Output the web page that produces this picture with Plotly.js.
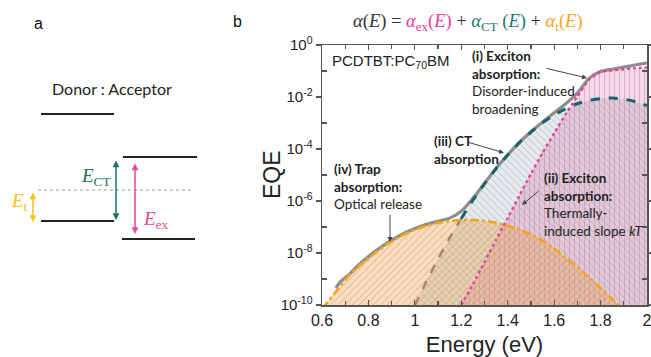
<!DOCTYPE html>
<html>
<head>
<meta charset="utf-8">
<script src="https://cdn.plot.ly/plotly-3.0.1.min.js"></script>
<style>html,body{margin:0;padding:0;background:#fff;}#chart{width:651px;height:357px;}</style>
</head>
<body>
<div id="chart"></div>
<script>
// ---------- data ----------
const trapEnergy = [0.60,0.65,0.70,0.75,0.80,0.85,0.90,0.95,1.00,1.05,1.10,1.15,1.20,1.25,1.30,1.35,1.40,1.45,1.50,1.55,1.60,1.65,1.70,1.75,1.80,1.85,1.90];
const trapEQE = [7.1e-11,2.5e-10,9.5e-10,2.6e-9,6.3e-9,1.38e-8,2.8e-8,5.0e-8,7.9e-8,1.12e-7,1.45e-7,1.70e-7,1.86e-7,1.86e-7,1.74e-7,1.45e-7,1.12e-7,8.1e-8,5.2e-8,3.0e-8,1.48e-8,6.6e-9,2.8e-9,1.15e-9,4.5e-10,1.7e-10,6.3e-11];

const ctEnergy = [1.00,1.05,1.10,1.15,1.20,1.25,1.30,1.35,1.40,1.45,1.50,1.55,1.60,1.65,1.70,1.75,1.80,1.85,1.90,1.95,2.00];
const ctEQE = [9.8e-11,8.1e-10,5.9e-9,3.8e-8,2.14e-7,1.07e-6,4.6e-6,1.78e-5,5.9e-5,1.74e-4,4.5e-4,1.02e-3,2.04e-3,3.55e-3,5.5e-3,7.4e-3,8.7e-3,9.1e-3,8.3e-3,6.6e-3,4.7e-3];

const exEnergy = [1.20,1.25,1.30,1.35,1.40,1.45,1.50,1.55,1.60,1.65,1.70,1.75,1.80,1.85,1.90,1.95,2.00];
const exEQE = [1.0e-10,6.3e-10,4.5e-9,3.2e-8,2.24e-7,1.58e-6,1.12e-5,7.1e-5,4.0e-4,2.24e-3,1.05e-2,4.7e-2,9.3e-2,0.107,0.117,0.129,0.138];

const totalEnergy = [0.66,0.68,0.70,0.72,0.75,0.80,0.85,0.90,0.95,1.00,1.05,1.10,1.15,1.20,1.25,1.30,1.35,1.40,1.45,1.50,1.55,1.60,1.65,1.70,1.75,1.80,1.85,1.90,1.95,2.00];
const totalEQE = [4.5e-10,7.9e-10,1.12e-9,1.58e-9,3.0e-9,7.4e-9,1.58e-8,3.1e-8,5.5e-8,8.7e-8,1.26e-7,1.66e-7,2.2e-7,4.0e-7,1.26e-6,4.8e-6,1.82e-5,6.0e-5,1.78e-4,4.6e-4,1.10e-3,2.45e-3,5.5e-3,1.41e-2,5.2e-2,9.5e-2,0.117,0.141,0.170,0.204];

const xTickVals = [0.6,0.8,1,1.2,1.4,1.6,1.8,2];
const xTickText = ['0.6','0.8','1','1.2','1.4','1.6','1.8','2'];
const yTickVals = [1e-10,1e-8,1e-6,1e-4,1e-2,1];
const yTickText = ['10<sup>-10</sup>','10<sup>-8</sup>','10<sup>-6</sup>','10<sup>-4</sup>','10<sup>-2</sup>','10<sup>0</sup>'];
const yMinorVals = [1e-9,1e-7,1e-5,1e-3,1e-1];

// ---------- helpers ----------
const BASE = 1e-13;
function area(xs, ys, bg, fg, shape){
  return {
    x: [xs[0]].concat(xs, [xs[xs.length-1]]),
    y: [BASE].concat(ys, [BASE]),
    type:'scatter', mode:'lines', fill:'toself', line:{width:0},
    fillcolor: bg,
    fillpattern:{shape: shape, bgcolor: bg, fgcolor: fg, fgopacity: 0.5, size: 5, solidity: 0.16},
    hoverinfo:'skip', showlegend:false, xaxis:'x', yaxis:'y'
  };
}
function curve(xs, ys, color, width, dash){
  return {x: xs, y: ys, type:'scatter', mode:'lines', line:{color: color, width: width, dash: dash, shape:'spline', smoothing:0.6},
          hoverinfo:'skip', showlegend:false, xaxis:'x', yaxis:'y'};
}

const C_TRAP = '#f7a21b', C_CT = '#17646e', C_EX = '#e6409b', C_TOT = '#8e8e8e';

// CT line part hidden under the trap fill (E <= 1.2) is drawn before the trap fill
const ctLowN = ctEnergy.indexOf(1.20) + 1;
const traces = [
  area(ctEnergy, ctEQE, 'rgba(160,176,186,0.27)', '#7d8a92', '\\'),
  area(exEnergy, exEQE, 'rgba(215,105,158,0.25)', '#b07a98', '|'),
  curve(ctEnergy.slice(0, ctLowN), ctEQE.slice(0, ctLowN), '#6f7060', 2.4, 'dash'),
  area(trapEnergy, trapEQE, 'rgba(238,168,90,0.40)', '#a8764a', '/'),
  curve(totalEnergy, totalEQE, C_TOT, 3.2, 'solid'),
  curve(trapEnergy, trapEQE, C_TRAP, 2.6, 'dashdot'),
  curve(ctEnergy.slice(ctLowN - 1), ctEQE.slice(ctLowN - 1), C_CT, 3, 'dash'),
  curve(exEnergy, exEQE, C_EX, 2.4, 'dot')
];

const TXT = '#222';
const labelFont = {family:'Lato, "Open Sans", sans-serif', size:13.5, color:TXT};
function lbl(x, y, text){
  return {xref:'x', yref:'y', x:x, y:y, xanchor:'left', yanchor:'middle', align:'left', showarrow:false, font:labelFont, text:text};
}
function arrow(x, y, ax, ay){
  return {xref:'x', yref:'y', x:x, y:y, ax:ax, ay:ay, text:'', showarrow:true, arrowhead:2, arrowsize:1, arrowwidth:1, arrowcolor:'#444'};
}

const annotations = [
  // panel letters
  {xref:'paper', yref:'paper', x:38/647, y:(305-23)/260, xanchor:'center', yanchor:'middle', text:'a', showarrow:false, font:{family:'Liberation Sans, Arial', size:16, color:'#111'}},
  {xref:'paper', yref:'paper', x:237/647, y:(305-21)/260, xanchor:'center', yanchor:'middle', text:'b', showarrow:false, font:{family:'Liberation Sans, Arial', size:16, color:'#111'}},
  // y-axis title
  {xref:'paper', yref:'paper', x:272/647, y:0.5, xanchor:'center', yanchor:'middle', textangle:-90, text:'EQE', showarrow:false,
   font:{family:'Liberation Sans, Arial', size:23, color:'#222'}},
  // formula
  {xref:'paper', yref:'paper', x:468/647, y:(305-22)/260, xanchor:'center', yanchor:'middle', showarrow:false,
   font:{family:'"Liberation Serif", serif', size:18.5, color:'#333'},
   text:'<i>α</i>(<i>E</i>) = <span style="color:'+C_EX+'"><i>α</i><sub>ex</sub>(<i>E</i>)</span> + <span style="color:#1b7a70"><i>α</i><sub>CT</sub> (<i>E</i>)</span> + <span style="color:'+C_TRAP+'"><i>α</i><sub>t</sub>(<i>E</i>)</span>'},
  // sample name
  {xref:'x', yref:'y', x:0.634, y:-0.65, xanchor:'left', yanchor:'middle', showarrow:false, text:'PCDTBT:PC<sub>70</sub>BM',
   font:{family:'Liberation Sans, Arial', size:15, color:'#222'}},
  lbl(1.2376, -1.46, '<b>(i) Exciton</b><br><b>absorption:</b><br>Disorder-induced<br>broadening'),
  arrow(1.7416, -1.27, -42, -10),
  lbl(1.074, -4.02, '<b>(iii) CT</b><br><b>absorption</b>'),
  arrow(1.384, -4.15, -37, -11),
  lbl(1.548, -6.12, '<b>(ii) Exciton</b><br><b>absorption:</b><br>Thermally-<br>induced slope <i>kT</i>'),
  arrow(1.4615, -6.15, 18, -15),
  lbl(0.643, -5.44, '<b>(iv) Trap</b><br><b>absorption:</b><br>Optical release'),
  arrow(0.893, -7.58, 0, -29),

  // ---- panel a (schematic, on hidden axes x2/y2 in pixel-like units) ----
  {xref:'x2', yref:'y2', x:112, y:88, text:'Donor : Acceptor', showarrow:false, font:{family:'Lato, "Open Sans", sans-serif', size:16, color:'#222'}},
  {xref:'x2', yref:'y2', x:33, y:222, ax:33, ay:191, axref:'x2', ayref:'y2', text:'', showarrow:true, arrowside:'end+start', arrowhead:2, arrowsize:0.9, arrowwidth:1.5, arrowcolor:'#f5c21b'},
  {xref:'x2', yref:'y2', x:116, y:220, ax:116, ay:159, axref:'x2', ayref:'y2', text:'', showarrow:true, arrowside:'end+start', arrowhead:2, arrowsize:0.9, arrowwidth:1.5, arrowcolor:'#1b7065'},
  {xref:'x2', yref:'y2', x:135, y:234, ax:135, ay:162, axref:'x2', ayref:'y2', text:'', showarrow:true, arrowside:'end+start', arrowhead:2, arrowsize:0.9, arrowwidth:1.5, arrowcolor:'#e8479a'},
  {xref:'x2', yref:'y2', x:19, y:202, text:'<i>E</i><sub>t</sub>', showarrow:false, font:{family:'"Liberation Serif", serif', size:19, color:'#f5c21b'}},
  {xref:'x2', yref:'y2', x:96, y:177, text:'<i>E</i><sub>CT</sub>', showarrow:false, font:{family:'"Liberation Serif", serif', size:19, color:'#1b7065'}},
  {xref:'x2', yref:'y2', x:156, y:220, text:'<i>E</i><sub>ex</sub>', showarrow:false, font:{family:'"Liberation Serif", serif', size:19, color:'#e8479a'}}
];

const shapes = [
  {type:'line', xref:'x2', yref:'y2', x0:41, x1:114, y0:114, y1:114, line:{color:'#222', width:2.2}},
  {type:'line', xref:'x2', yref:'y2', x0:123, x1:197, y0:157, y1:157, line:{color:'#222', width:2.2}},
  {type:'line', xref:'x2', yref:'y2', x0:41, x1:114, y0:221, y1:221, line:{color:'#222', width:2.2}},
  {type:'line', xref:'x2', yref:'y2', x0:122, x1:195, y0:239, y1:239, line:{color:'#222', width:2.2}},
  {type:'line', xref:'x2', yref:'y2', x0:38, x1:194, y0:190, y1:190, line:{color:'#999', width:1, dash:'dot'}}
];

const layout = {
  width:651, height:357,
  margin:{l:0, r:4, t:45, b:52},
  paper_bgcolor:'#fff', plot_bgcolor:'rgba(0,0,0,0)',
  showlegend:false,
  font:{family:'Liberation Sans, Arial, sans-serif', color:'#222'},
  xaxis:{domain:[322/647, 1], range:[0.6, 2], tickmode:'array', tickvals:xTickVals, ticktext:xTickText,
         ticks:'inside', ticklen:5, tickwidth:1.2, tickcolor:'#555', ticklabeloverflow:'allow',
         minor:{tickmode:'linear', tick0:0.6, dtick:0.1, ticks:'inside', ticklen:4, tickcolor:'#555'},
         showline:true, linecolor:'#555', linewidth:1.5, mirror:'ticks', showgrid:false, zeroline:false,
         tickfont:{size:16, color:'#222'},
         title:{text:'Energy (eV)', font:{size:22, color:'#222'}, standoff:9}},
  yaxis:{domain:[0,1], type:'log', range:[-10, 0], tickmode:'array', tickvals:yTickVals, ticktext:yTickText,
         ticks:'outside', ticklen:5, tickwidth:1.2, tickcolor:'#555',
         minor:{tickmode:'array', tickvals:yMinorVals, ticks:'inside', ticklen:5, tickcolor:'#555'},
         showline:true, linecolor:'#555', linewidth:1.5, mirror:'ticks', showgrid:false, zeroline:false,
         tickfont:{size:15, color:'#222'}},
  xaxis2:{domain:[0, 0.45], range:[0, 0.45*647], visible:false, fixedrange:true, anchor:'y2'},
  yaxis2:{domain:[0, 1], range:[305, 45], visible:false, fixedrange:true, anchor:'x2'},
  annotations: annotations,
  shapes: shapes
};

Plotly.newPlot('chart', traces, layout, {displayModeBar:false, staticPlot:true});
</script>
</body>
</html>
